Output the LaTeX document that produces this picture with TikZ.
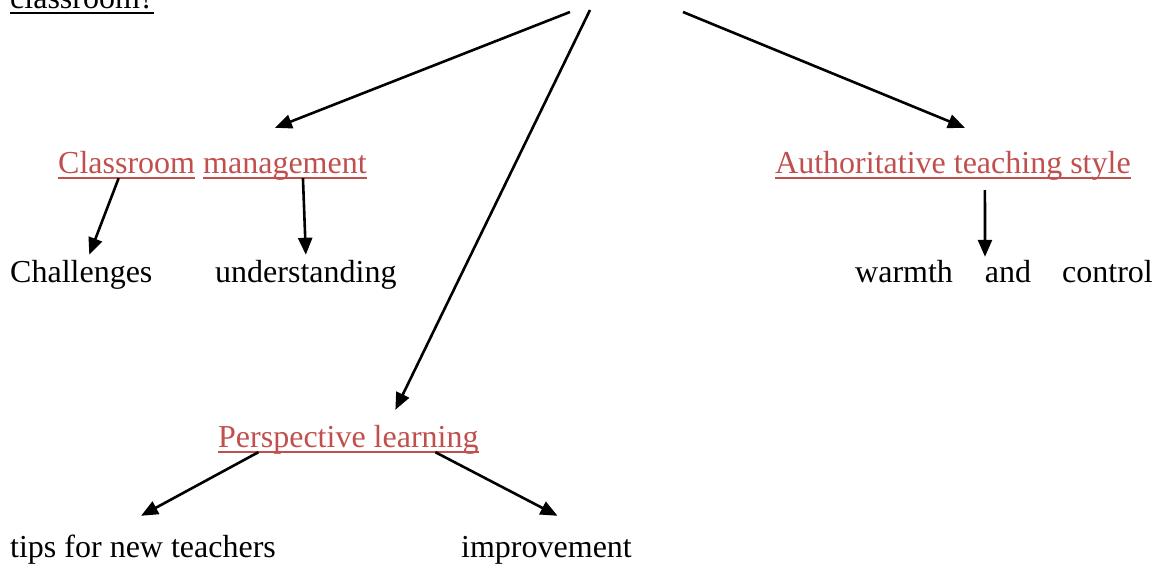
\documentclass[tikz,border=0pt]{standalone}
\usepackage{fontspec}
\setmainfont{Liberation Serif}
\usetikzlibrary{arrows.meta}
\definecolor{linkred}{RGB}{192,80,77}

\tikzset{
  word/.style={anchor=base west, inner sep=0pt, text height=22pt, text depth=7pt,
    font=\fontsize{32}{38}\selectfont},
  uword/.style={word, text=#1,
    append after command={([yshift=-5pt]\tikzlastnode.base west)
      edge[draw=#1, line width=2pt] ([yshift=-5pt]\tikzlastnode.base east)}},
  uword/.default=linkred,
  conn/.style={line width=2.6pt, -{Triangle[length=17pt,width=14pt]}},
}

\begin{document}
\begin{tikzpicture}[x=1pt, y=-1pt]
  \useasboundingbox (0,0) rectangle (1157,568);
  \node [uword=black] (q) at (10,8) {classroom?};
  \coordinate (ql) at (570,12);
  \coordinate (qm) at (590,10);
  \coordinate (qr) at (683,12);

  \node [uword] (cl) at (58,173) {Classroom};
  \node [uword] (mg) at (203,173) {management};
  \node [uword] (au) at (775,173) {Authoritative teaching style};
  \node [uword] (pl) at (218,447) {Perspective learning};

  \node [word] (ch) at (10,282) {Challenges};
  \node [word] (un) at (215,282) {understanding};
  \node [word] (wc) at (855,282) {warmth\hspace{32pt}and\hspace{31pt}control};
  \node [word] (tp) at (10,557) {tips for new teachers};
  \node [word] (im) at (461,557) {improvement};

  % from the question
  \draw [conn] (ql) -- ([xshift=-10pt,yshift=23pt]mg.north);
  \draw [conn] (qm) -- ([xshift=47pt,yshift=15pt]pl.north);
  \draw [conn] (qr) -- ([xshift=12pt,yshift=23pt]au.north);

  \draw [conn] ([xshift=-8pt,yshift=2pt]cl.south) -- ([xshift=8pt,yshift=5pt]ch.north);
  \draw [conn] ([xshift=18pt,yshift=2pt]mg.south) -- ([yshift=5pt]un.north);
  \draw [conn] ([xshift=32pt,yshift=-10pt]au.south) -- ([xshift=-19pt,yshift=3pt]wc.north);

  \draw [conn] ([xshift=-90pt,yshift=2pt]pl.south) -- ([xshift=-2pt,yshift=19pt]tp.north);
  \draw [conn] ([xshift=87pt,yshift=2pt]pl.south) -- ([xshift=11pt,yshift=19pt]im.north);
\end{tikzpicture}
\end{document}
